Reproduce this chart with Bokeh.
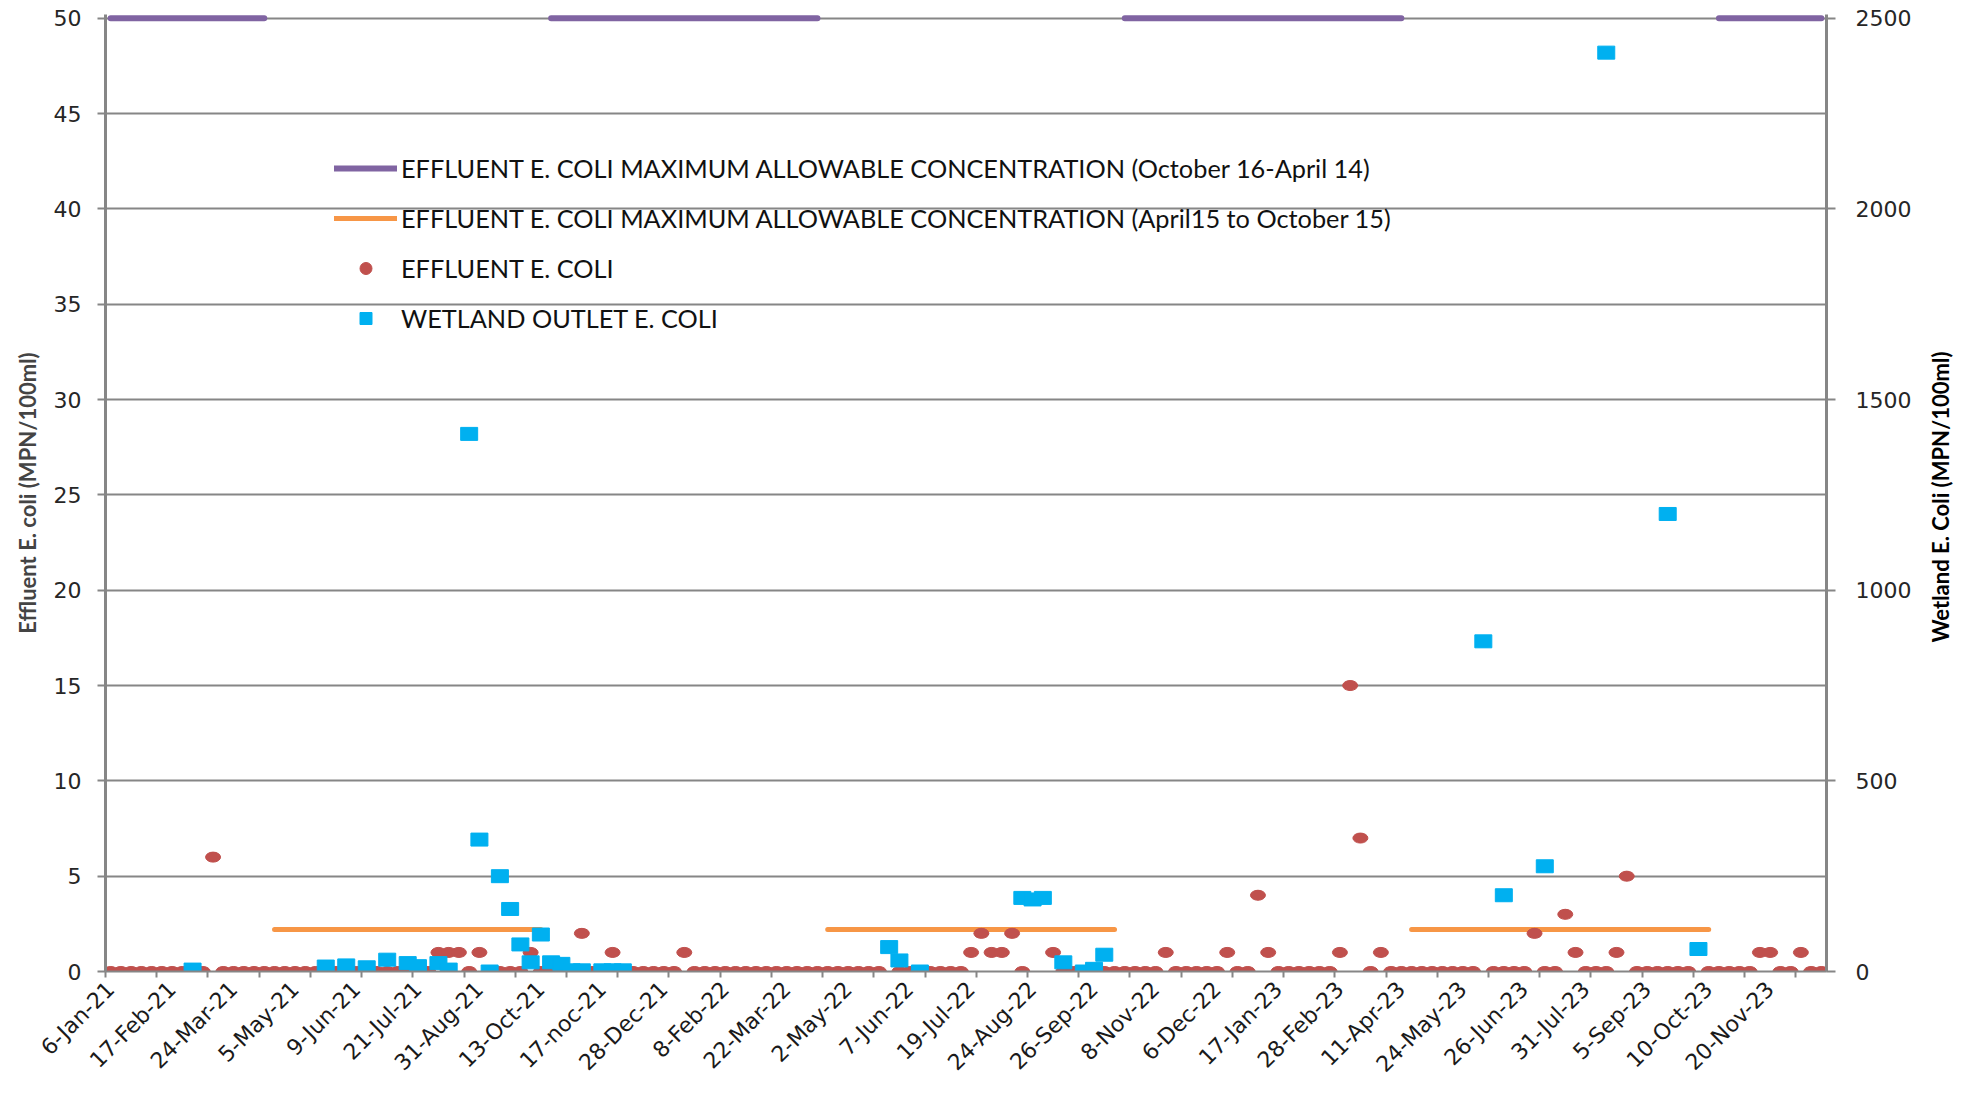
import math
from bokeh.plotting import figure
from bokeh.models import Range1d, LinearAxis, FixedTicker, Legend, LegendItem
from bokeh.embed import file_html
from bokeh.resources import INLINE

nan = float("nan")

# ---- data (sample number = category index along the x axis) ----
effluent = [
    0, 0, 0, 0, 0, 0, 0, 0, 0, 0,
    6, 0, 0, 0, 0, 0, 0, 0, 0, 0,
    0, 0, 0, 0, 0, 0, 0, 0, 0, 0,
    0, 0, 1, 1, 1, 0, 1, 0, 0, 0,
    0, 1, 0, 0, 0, 0, 2, 0, 0, 1,
    0, 0, 0, 0, 0, 0, 1, 0, 0, 0,
    0, 0, 0, 0, 0, 0, 0, 0, 0, 0,
    0, 0, 0, 0, 0, 0, nan, 0, 0, 0,
    0, 0, 0, 0, 1, 2, 1, 1, 2, 0,
    nan, nan, 1, 0, 0, 0, 0, 0, 0, 0,
    0, 0, 0, 1, 0, 0, 0, 0, 0, 1,
    0, 0, 4, 1, 0, 0, 0, 0, 0, 0,
    1, 15, 7, 0, 1, 0, 0, 0, 0, 0,
    0, 0, 0, 0, nan, 0, 0, 0, 0, 2,
    0, 0, 3, 1, 0, 0, 0, 1, 5, 0,
    0, 0, 0, 0, 0, nan, 0, 0, 0, 0,
    0, 1, 1, 0, 0, 1, 0, 0,
]
wetland_idx = [8, 21, 23, 25, 27, 29, 30, 32, 33, 35, 36, 37, 38, 39, 40, 41, 42, 43, 44, 45,
               46, 48, 49, 50, 76, 77, 79, 89, 90, 91, 93, 95, 96, 97, 134, 136, 140, 146, 152, 155]
wetland_val = [5, 13, 16, 11, 31, 22, 14, 22, 5, 1410, 346, 0, 250, 164, 71, 24, 97, 24, 20, 3,
               3, 3, 3, 3, 64, 29, 0, 193, 189, 193, 24, 0, 7, 44, 866, 200, 276, 2410, 1200, 59]
tick_labels = ["6-Jan-21", "17-Feb-21", "24-Mar-21", "5-May-21", "9-Jun-21", "21-Jul-21",
               "31-Aug-21", "13-Oct-21", "17-noc-21", "28-Dec-21", "8-Feb-22", "22-Mar-22",
               "2-May-22", "7-Jun-22", "19-Jul-22", "24-Aug-22", "26-Sep-22", "8-Nov-22",
               "6-Dec-22", "17-Jan-23", "28-Feb-23", "11-Apr-23", "24-May-23", "26-Jun-23",
               "31-Jul-23", "5-Sep-23", "10-Oct-23", "20-Nov-23"]
label_every = 6
tick_every = 5
winter_limit = 50      # October 16 - April 14
summer_limit = 2.2     # April 15 - October 15
winter_periods = [(0, 15), (43, 69), (99, 126), (157, 167)]
summer_periods = [(16, 42), (70, 98), (127, 156)]

n = len(effluent)

RED = "#c0504d"
BLUE = "#00b0f0"
PURPLE = "#8064a2"
ORANGE = "#f79646"
GRAY = "#868686"

# ---- figure ----
p = figure(width=1970, height=1092, output_backend="svg", toolbar_location=None,
           x_range=Range1d(-0.5, n - 0.5), y_range=Range1d(0, 50.2),
           min_border_left=105, min_border_right=140, min_border_top=14, min_border_bottom=121)
p.extra_y_ranges = {"right": Range1d(0, 2510)}
p.outline_line_color = None
p.background_fill_color = "white"
p.border_fill_color = "white"

# limit lines
win_xs = [list(range(a, b + 1)) for a, b in winter_periods]
win_ys = [[winter_limit] * len(xs) for xs in win_xs]
sum_xs = [list(range(a, b + 1)) for a, b in summer_periods]
sum_ys = [[summer_limit] * len(xs) for xs in sum_xs]
r_win = p.multi_line(win_xs, win_ys, line_color=PURPLE, line_width=6, line_cap="round")
r_sum = p.multi_line(sum_xs, sum_ys, line_color=ORANGE, line_width=5, line_cap="round")

ex = [i for i, v in enumerate(effluent) if not math.isnan(v)]
ey = [v for v in effluent if not math.isnan(v)]

# small markers (used for the legend symbols), covered by the stretched markers below
leg_eff = p.scatter(x=ex, y=ey, marker="circle", size=9, fill_color=RED, line_color=RED)
p.ellipse(x=ex, y=ey, width=15, height=10, width_units="screen", height_units="screen",
          fill_color=RED, line_color=RED)
leg_wet = p.scatter(x=wetland_idx, y=wetland_val, marker="square", size=11, fill_color=BLUE,
                    line_color=BLUE, y_range_name="right")
p.rect(x=wetland_idx, y=wetland_val, width=17, height=13, width_units="screen",
       height_units="screen", fill_color=BLUE, line_color=BLUE, y_range_name="right")

# x axis
xa = p.xaxis[0]
xa.ticker = FixedTicker(ticks=[i * label_every for i in range(len(tick_labels))],
                        minor_ticks=[k * tick_every - 0.5 for k in range(n // tick_every + 1)])
xa.major_label_overrides = {i * label_every: t for i, t in enumerate(tick_labels)}
xa.major_label_orientation = math.pi / 4
xa.major_tick_out = 0
xa.major_tick_in = 0
xa.minor_tick_out = 6
xa.minor_tick_in = 0
xa.minor_tick_line_color = GRAY
xa.minor_tick_line_width = 2
xa.axis_line_color = GRAY
xa.axis_line_width = 2
xa.major_label_text_font = "DejaVu Sans"
xa.major_label_text_font_size = "22px"
xa.major_label_text_color = "#1a1a1a"
xa.major_label_standoff = 8

# left axis
ya = p.yaxis[0]
ya.ticker = FixedTicker(ticks=list(range(0, 51, 5)))
ya.axis_label = "Effluent E. coli (MPN/100ml)"
ya.axis_label_text_font = "Lato"
ya.axis_label_text_font_style = "bold"
ya.axis_label_text_font_size = "22px"
ya.axis_label_standoff = 10
ya.major_label_text_font = "DejaVu Sans"
ya.major_label_text_font_size = "22px"
ya.major_label_text_color = "#262626"
ya.major_label_standoff = 16
ya.major_tick_out = 8
ya.major_tick_in = 0
ya.minor_tick_out = 0
ya.minor_tick_in = 0
ya.major_tick_line_color = GRAY
ya.major_tick_line_width = 2
ya.axis_line_color = GRAY
ya.axis_line_width = 3

# right axis (ticks, labels, line)
ra = LinearAxis(y_range_name="right", ticker=FixedTicker(ticks=list(range(0, 2501, 500))))
ra.major_label_text_font = "DejaVu Sans"
ra.major_label_text_font_size = "22px"
ra.major_label_text_color = "#262626"
ra.major_label_standoff = 20
ra.major_tick_out = 9
ra.major_tick_in = 0
ra.minor_tick_out = 0
ra.minor_tick_in = 0
ra.major_tick_line_color = GRAY
ra.major_tick_line_width = 2
ra.axis_line_color = GRAY
ra.axis_line_width = 3
p.add_layout(ra, "right")

# right axis title: drawn as the single (rotated) label of an outer, line-less axis so it
# reads bottom-to-top; the text starts at title_start (right-axis units) and runs upward
right_title = "Wetland E. Coli (MPN/100ml)"
title_start = 863
rt = LinearAxis(y_range_name="right", ticker=FixedTicker(ticks=[title_start]))
rt.major_label_overrides = {title_start: right_title}
rt.major_label_orientation = math.pi / 2
rt.major_label_text_font = "Lato"
rt.major_label_text_font_style = "bold"
rt.major_label_text_font_size = "22px"
rt.major_label_text_color = "#000000"
rt.major_label_standoff = 26
rt.axis_line_color = None
rt.major_tick_out = 0
rt.major_tick_in = 0
rt.minor_tick_out = 0
rt.minor_tick_in = 0
p.add_layout(rt, "right")

# grid
p.xgrid.visible = False
p.ygrid.ticker = FixedTicker(ticks=list(range(0, 51, 5)))
p.ygrid.grid_line_color = GRAY
p.ygrid.grid_line_width = 2

# legend
legend = Legend(items=[
    LegendItem(label="EFFLUENT E. COLI MAXIMUM ALLOWABLE CONCENTRATION (October 16-April 14)", renderers=[r_win]),
    LegendItem(label="EFFLUENT E. COLI MAXIMUM ALLOWABLE CONCENTRATION (April15 to October 15)", renderers=[r_sum]),
    LegendItem(label="EFFLUENT E. COLI", renderers=[leg_eff]),
    LegendItem(label="WETLAND OUTLET E. COLI", renderers=[leg_wet]),
], location=(229, 638))
legend.border_line_color = None
legend.background_fill_alpha = 0
legend.padding = 0
legend.margin = 0
legend.spacing = 20
legend.glyph_width = 63
legend.glyph_height = 30
legend.label_height = 30
legend.label_standoff = 4
legend.label_text_font = "Lato"
legend.label_text_font_size = "25.3px"
legend.label_text_color = "#111111"
p.add_layout(legend)

open("out.html", "w").write(file_html(p, INLINE))
